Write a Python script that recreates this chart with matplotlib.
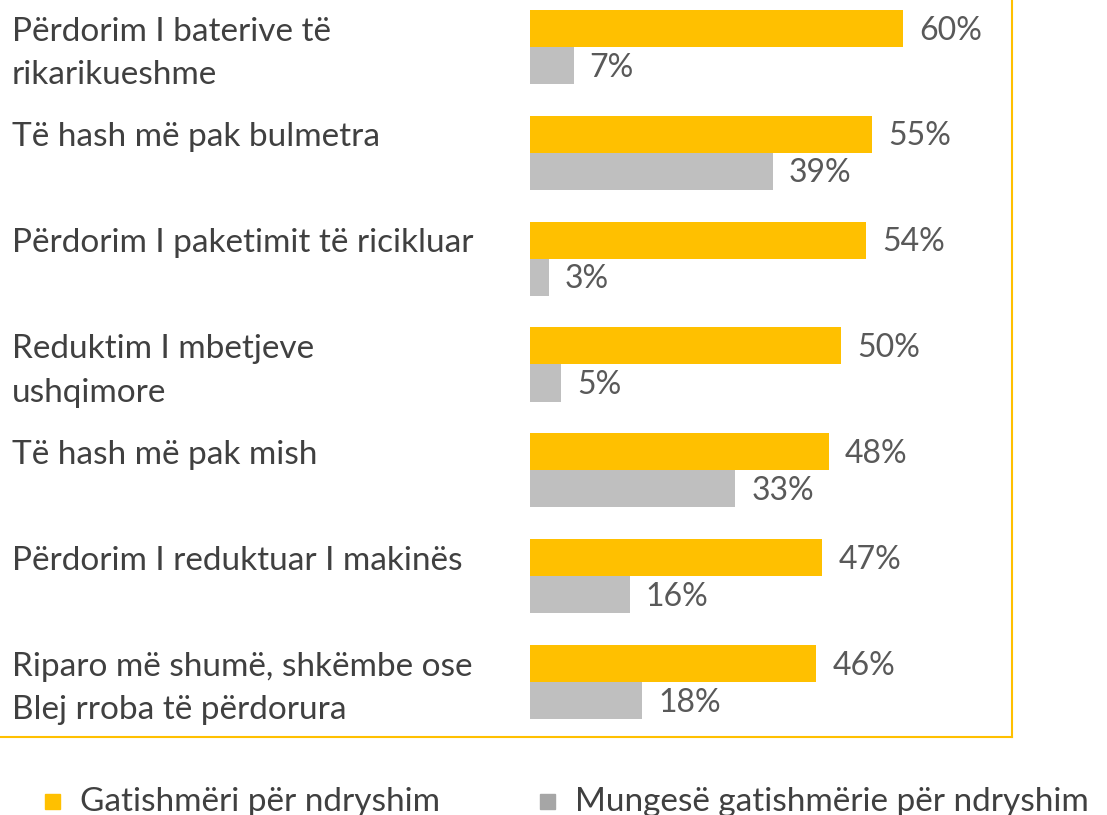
import matplotlib.pyplot as plt
import matplotlib.transforms as mtransforms
from matplotlib.patches import Rectangle
from matplotlib.lines import Line2D

categories = [
    "Përdorim I baterive të\nrikarikueshme",
    "Të hash më pak bulmetra",
    "Përdorim I paketimit të ricikluar",
    "Reduktim I mbetjeve\nushqimore",
    "Të hash më pak mish",
    "Përdorim I reduktuar I makinës",
    "Riparo më shumë, shkëmbe ose\nBlej rroba të përdorura",
]
willing = [60, 55, 54, 50, 48, 47, 46]
not_willing = [7, 39, 3, 5, 33, 16, 18]
legend_labels = ["Gatishmëri për ndryshim", "Mungesë gatishmërie për ndryshim"]

ORANGE = "#FFC000"
GREY = "#BFBFBF"
TXT = "#404040"
VAL = "#595959"

plt.rcParams['font.family'] = ['Lato', 'DejaVu Sans']

W, H = 1107, 815
fig = plt.figure(figsize=(W / 100, H / 100), dpi=100)
# axes placed in pixel terms: x from 530 to 1009, y from 0 to 737
ax = fig.add_axes([530 / W, (H - 737) / H, 479 / W, 737 / H])

bh = 0.35
ys = list(range(len(categories)))
ax.barh([y - bh / 2 for y in ys], willing, height=bh, color=ORANGE)
ax.barh([y + bh / 2 for y in ys], not_willing, height=bh, color=GREY)

ax.set_xlim(0, 77)
ax.set_ylim(6.52, -0.444)
ax.axis('off')

for y, v in zip(ys, willing):
    ax.text(v + 2.6, y - bh / 2 + 0.02, f"{v}%", va='center', ha='left', fontsize=23, color=VAL)
for y, v in zip(ys, not_willing):
    ax.text(v + 2.6, y + bh / 2 + 0.02, f"{v}%", va='center', ha='left', fontsize=23, color=VAL)

trans = mtransforms.blended_transform_factory(fig.transFigure, ax.transData)
for y, lab in zip(ys, categories):
    for k, line in enumerate(lab.split("\n")):
        ax.text(12 / W, y - bh / 2 + 0.03 + k * 0.41, line, transform=trans,
                va='center', ha='left', fontsize=24, color=TXT)

# frame lines (right and bottom)
fx = 1012 / W
fy = (H - 737) / H
fig.add_artist(Line2D([fx, fx], [fy, 1.0], color=ORANGE, lw=1.5, transform=fig.transFigure))
fig.add_artist(Line2D([0, fx], [fy, fy], color=ORANGE, lw=1.5, transform=fig.transFigure))

# legend
ly = (H - 802) / H
for x0, col, lab in [(45, ORANGE, legend_labels[0]), (540, "#A6A6A6", legend_labels[1])]:
    fig.add_artist(Rectangle((x0 / W, ly - 7 / H), 15 / W, 15 / H, color=col,
                             transform=fig.transFigure))
    fig.text((x0 + 35) / W, ly, lab, va='center', ha='left', fontsize=24, color=TXT)

fig.savefig("out.png", dpi=100)
